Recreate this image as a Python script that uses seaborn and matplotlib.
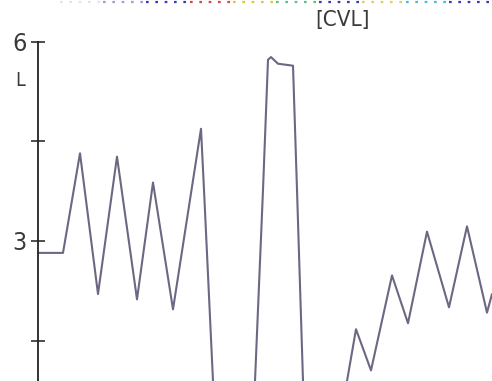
import matplotlib
matplotlib.use("Agg")
import matplotlib.pyplot as plt
import seaborn as sns
import pandas as pd

# Volume trace: time (s) and lung volume (L)
time_s = [0.0, 0.625, 1.05, 1.5, 1.975, 2.475, 2.875, 3.375, 4.075, 4.15, 4.375,
          4.85, 5.425, 5.625, 5.75, 5.825, 6.0, 6.375, 6.475, 6.625, 7.175, 7.725,
          7.95, 8.325, 8.85, 9.25, 9.725, 10.275, 10.725, 11.225, 11.35]
volume_l = [2.82, 2.82, 4.32, 2.2, 4.27, 2.12, 3.88, 1.97, 4.69, 3.77, 0.89,
            0.2, 0.89, 3.77, 5.73, 5.77, 5.67, 5.64, 3.77, 0.89, 0.3, 0.89,
            1.67, 1.05, 2.48, 1.76, 3.14, 2.0, 3.22, 1.92, 2.2]

y_ticks = [6, 4.5, 3, 1.5]
y_tick_labels = ["6", "", "3", ""]
title_text = "[CVL]"
unit_text = "L"

# Colours of the dotted header rule, left to right
rule_colors = ["#e2e2f0", "#a0a0d8", "#3a3ab8", "#d04848", "#e0c840",
               "#60c080", "#3a3ab0", "#e0d060", "#50b8d0", "#3a3ab0"]

df = pd.DataFrame({"t": time_s, "v": volume_l})

sns.set_theme(style="white")
plt.rcParams["font.family"] = ["DejaVu Sans"]

fig = plt.figure(figsize=(4.92, 3.81), dpi=100)
ax = fig.add_axes([0, 0, 1, 1])

x0, x1 = -0.95, 11.35
y0, y1 = 0.89, 6.63
ax.set_xlim(x0, x1)
ax.set_ylim(y0, y1)

sns.lineplot(data=df, x="t", y="v", sort=False, ax=ax,
             color="#6e6682", linewidth=1.5)

# header dotted rule
n = len(rule_colors)
rx0, rx1 = 0.55, x1
step = (rx1 - rx0) / n
for i, c in enumerate(rule_colors):
    ax.plot([rx0 + i * step, rx0 + (i + 1) * step], [6.6, 6.6], color=c,
            linestyle=(0, (1.2, 3.0)), linewidth=1.6, solid_capstyle="butt")

for side in ["top", "right", "bottom"]:
    ax.spines[side].set_visible(False)
ax.spines["left"].set_position(("data", 0))
ax.spines["left"].set_bounds(y0, 6)
ax.spines["left"].set_color("#222222")
ax.spines["left"].set_linewidth(1.3)

ax.set_xticks([])
ax.set_yticks(y_ticks)
ax.set_yticklabels(y_tick_labels, fontstretch="condensed")
ax.tick_params(axis="y", direction="inout", length=10, width=1.2,
               color="#303030", labelsize=18, pad=3, labelcolor="#3a3a3a",
               left=True)
ax.set_xlabel("")
ax.set_ylabel("")

ax.text(-0.45, 5.42, unit_text, fontsize=14, color="#3a3a3a",
        ha="center", va="center", fontstretch="condensed")
ax.text(7.6, 6.33, title_text, fontsize=16, color="#3a3a3a",
        ha="center", va="center", fontstretch="condensed")

fig.savefig("out.png", dpi=100)
